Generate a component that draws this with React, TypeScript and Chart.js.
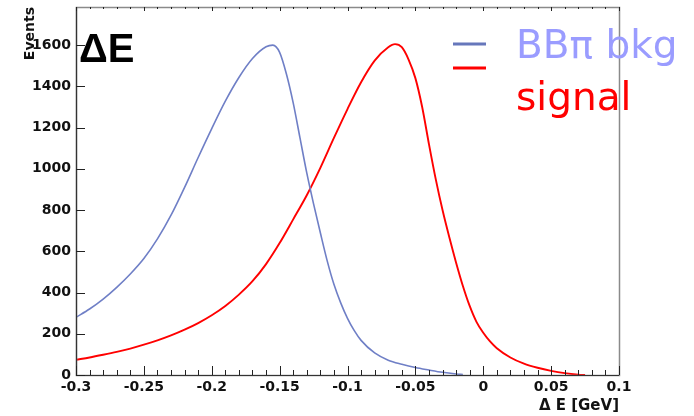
import React, { useEffect, useRef } from 'react';
import { Chart, registerables } from 'chart.js';

Chart.register(...registerables);

const bkgX = [-0.3, -0.29, -0.28, -0.27, -0.26, -0.25, -0.24, -0.23, -0.22, -0.21, -0.2, -0.19, -0.18, -0.17, -0.16, -0.155, -0.15, -0.145, -0.14, -0.135, -0.13, -0.125, -0.12, -0.115, -0.11, -0.105, -0.1, -0.095, -0.09, -0.08, -0.07, -0.06, -0.05, -0.04, -0.03, -0.02, -0.015];
const bkgY = [280, 320, 368, 425, 490, 565, 660, 775, 910, 1055, 1195, 1328, 1443, 1535, 1592, 1600, 1565, 1460, 1320, 1150, 980, 830, 690, 555, 440, 350, 275, 215, 168, 107, 72, 52, 36, 24, 13, 5, 2];

const sigX = [-0.3, -0.29, -0.28, -0.27, -0.26, -0.25, -0.24, -0.23, -0.22, -0.21, -0.2, -0.19, -0.18, -0.17, -0.16, -0.15, -0.14, -0.13, -0.12, -0.11, -0.1, -0.09, -0.08, -0.07, -0.065, -0.06, -0.055, -0.05, -0.045, -0.04, -0.035, -0.03, -0.025, -0.02, -0.015, -0.01, -0.005, 0, 0.005, 0.01, 0.02, 0.03, 0.04, 0.05, 0.06, 0.07, 0.075];
const sigY = [74, 85, 98, 112, 128, 147, 168, 192, 220, 252, 290, 335, 390, 455, 538, 640, 755, 872, 1005, 1150, 1290, 1420, 1525, 1590, 1605, 1590, 1530, 1440, 1300, 1120, 950, 800, 668, 545, 432, 335, 258, 205, 163, 130, 85, 55, 35, 20, 9, 2, 0];

const seriesNames = ['BB\u03C0 bkg', 'signal'];
const seriesColors = ['#6f7fc6', '#ff0000'];
const legendLineColors = ['#6677bb', '#ff0000'];
const legendTextColors = ['#9a9cff', '#ff0000'];

const xTickValues = [-0.3, -0.25, -0.2, -0.15, -0.1, -0.05, 0, 0.05, 0.1];
const yTickValues = [0, 200, 400, 600, 800, 1000, 1200, 1400, 1600];
const xMin = -0.3;
const xMax = 0.1;
const xMinorStep = 0.01;
const yMin = 0;
const yMax = 1785;

const plotTitle = '\u0394E';
const xTitle = '\u0394 E [GeV]';
const yTitle = 'Events';

const FONT = "'Liberation Sans', Arial, Helvetica, sans-serif";
const WIDE = "'DejaVu Sans', Verdana, sans-serif";

const framePlugin = {
  id: 'rootFrame',
  afterDraw(chart: any) {
    const { ctx, chartArea: a, scales } = chart;
    const x = scales.x;
    const y = scales.y;
    ctx.save();
    ctx.strokeStyle = '#8a8a8a';
    ctx.lineWidth = 1.5;
    ctx.strokeRect(a.left + 0.5, a.top + 0.5, a.right - a.left, a.bottom - a.top);
    ctx.strokeStyle = '#333';
    ctx.lineWidth = 1.2;
    ctx.beginPath();
    ctx.moveTo(a.left + 0.5, a.top);
    ctx.lineTo(a.left + 0.5, a.bottom + 0.5);
    ctx.lineTo(a.right, a.bottom + 0.5);
    ctx.stroke();
    const nMinor = Math.round((xMax - xMin) / xMinorStep);
    const perMajor = 5;
    ctx.strokeStyle = '#222';
    ctx.lineWidth = 1;
    ctx.beginPath();
    for (let i = 0; i <= nMinor; i++) {
      const v = xMin + i * xMinorStep;
      const px = Math.round(x.getPixelForValue(v)) + 0.5;
      const major = i % perMajor === 0;
      const len = major ? 9 : 5;
      ctx.moveTo(px, a.bottom);
      ctx.lineTo(px, a.bottom - len);
      const tlen = major ? 4 : 2;
      ctx.moveTo(px, a.top);
      ctx.lineTo(px, a.top + tlen);
    }
    for (const v of yTickValues) {
      const py = Math.round(y.getPixelForValue(v)) + 0.5;
      ctx.moveTo(a.left, py);
      ctx.lineTo(a.left + 9, py);
    }
    ctx.stroke();

    ctx.fillStyle = '#000';
    ctx.font = `bold 40px ${FONT}`;
    ctx.textAlign = 'left';
    ctx.textBaseline = 'alphabetic';
    ctx.fillText(plotTitle, a.left + 3, a.top + 55);

    const lx = 453;
    const rows = [44, 68];
    const textY = [58, 110];
    for (let i = 0; i < seriesNames.length; i++) {
      ctx.strokeStyle = legendLineColors[i];
      ctx.lineWidth = 3;
      ctx.beginPath();
      ctx.moveTo(lx, rows[i]);
      ctx.lineTo(lx + 33, rows[i]);
      ctx.stroke();
      ctx.fillStyle = legendTextColors[i];
      ctx.font = `39px ${WIDE}`;
      ctx.fillText(seriesNames[i], 516, textY[i]);
    }
    ctx.restore();
  },
};

export default function App() {
  const ref = useRef<HTMLCanvasElement | null>(null);
  useEffect(() => {
    if (!ref.current) return;
    const toPts = (xs: number[], ys: number[]) => xs.map((v, i) => ({ x: v, y: ys[i] }));
    const chart = new Chart(ref.current, {
      type: 'line',
      data: {
        datasets: [
          {
            label: seriesNames[0],
            data: toPts(bkgX, bkgY),
            borderColor: seriesColors[0],
            borderWidth: 1.6,
            pointRadius: 0,
            cubicInterpolationMode: 'monotone',
            fill: false,
          },
          {
            label: seriesNames[1],
            data: toPts(sigX, sigY),
            borderColor: seriesColors[1],
            borderWidth: 1.9,
            pointRadius: 0,
            cubicInterpolationMode: 'monotone',
            fill: false,
          },
        ],
      },
      options: {
        responsive: false,
        animation: false,
        devicePixelRatio: 1,
        layout: { padding: { left: 0, top: 7, right: 75, bottom: 0 } },
        plugins: { legend: { display: false }, tooltip: { enabled: false } },
        scales: {
          x: {
            type: 'linear',
            min: xMin,
            max: xMax,
            grid: { display: false, drawTicks: false },
            border: { display: false },
            afterBuildTicks: (s: any) => { s.ticks = xTickValues.map((v) => ({ value: v })); },
            ticks: {
              autoSkip: false,
              maxRotation: 0,
              padding: 4,
              color: '#111',
              font: { family: WIDE, size: 14, weight: 'bold' },
              callback: (v: any) => String(Number(Number(v).toFixed(2))),
            },
            title: {
              display: true,
              text: xTitle,
              align: 'end',
              color: '#111',
              font: { family: WIDE, size: 15, weight: 'bold' },
              padding: { top: 0, bottom: 1 },
            },
            afterFit: (s: any) => { s.height = 41; s.paddingLeft = 0; s.paddingRight = 0; },
          },
          y: {
            type: 'linear',
            min: yMin,
            max: yMax,
            grid: { display: false, drawTicks: false },
            border: { display: false },
            afterBuildTicks: (s: any) => { s.ticks = yTickValues.map((v) => ({ value: v })); },
            ticks: {
              padding: 5,
              color: '#111',
              font: { family: WIDE, size: 14, weight: 'bold' },
              callback: (v: any) => String(v),
            },
            title: {
              display: true,
              text: yTitle,
              align: 'end',
              color: '#111',
              font: { family: WIDE, size: 14, weight: 'bold' },
              padding: { top: 22, bottom: 0 },
            },
            afterFit: (s: any) => { s.width = 76; s.paddingTop = 0; s.paddingBottom = 0; },
          },
        },
      },
      plugins: [framePlugin],
    } as any);
    return () => chart.destroy();
  }, []);
  return (
    <div style={{ position: 'absolute', left: 0, top: 0, width: 694, height: 416, background: '#fff' }}>
      <canvas ref={ref} width={694} height={416} style={{ display: 'block' }} />
    </div>
  );
}
